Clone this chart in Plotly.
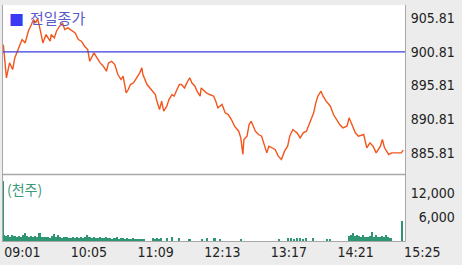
import pandas as pd
import plotly.graph_objects as go

DAY = "2024-01-02 "

# ---- price series (KOSPI-like intraday index) ----
price_times = ["09:01","09:04","09:07","09:10","09:12","09:15","09:19","09:22","09:25","09:28",
               "09:30","09:32","09:34","09:36","09:39","09:42","09:44","09:46","09:47","09:50",
               "09:52","09:55","09:58","10:00","10:03","10:07","10:10","10:13","10:16","10:19",
               "10:22","10:24","10:26","10:28","10:31","10:34","10:37","10:40","10:42","10:45",
               "10:48","10:51","10:54","10:56","10:59","11:01","11:03","11:06","11:09","11:12",
               "11:14","11:15","11:19","11:23","11:27","11:28","11:31","11:33","11:35","11:38",
               "11:40","11:43","11:45","11:47","11:50","11:52","11:55","11:58","12:00","12:02",
               "12:05","12:07","12:10","12:11","12:14","12:16","12:19","12:23","12:25","12:27",
               "12:31","12:34","12:37","12:40","12:43","12:47","12:49","12:51","12:52","12:55",
               "12:57","12:59","13:03","13:06","13:09","13:12","13:14","13:16","13:19","13:22",
               "13:25","13:28","13:31","13:34","13:36","13:39","13:41","13:43","13:46","13:49",
               "13:52","13:55","13:59","14:01","14:03","14:06","14:08","14:11","14:15","14:18",
               "14:21","14:24","14:27","14:31","14:33","14:35","14:39","14:42","14:47","14:50",
               "14:53","14:56","14:59","15:03","15:05","15:07","15:11","15:14","15:23","15:25"]
prices = [901.88,896.95,899.17,898.18,899.91,901.14,902.62,902.13,903.86,904.85,
          905.59,905.09,905.70,904.35,902.13,903.37,902.87,902.38,903.37,902.87,
          903.86,904.60,905.00,904.11,904.35,903.86,903.61,902.62,902.38,901.64,
          901.14,899.41,900.16,900.65,899.91,899.17,898.67,897.93,899.17,899.41,
          898.92,897.44,896.70,897.19,894.72,895.22,895.96,896.21,896.95,897.69,
          898.43,897.44,895.96,895.22,894.48,893.74,892.25,893.49,892.01,892.75,
          893.74,894.48,894.23,894.97,895.96,895.96,895.46,896.45,896.95,896.21,
          895.71,894.97,894.23,895.46,894.97,894.72,894.48,894.23,893.49,892.50,
          893.00,891.76,891.51,890.77,889.79,889.04,888.06,885.59,887.81,888.30,
          890.03,890.53,889.04,888.55,888.30,886.82,885.83,886.82,886.58,886.33,
          885.34,884.85,886.08,886.82,888.30,889.29,889.04,888.80,888.06,888.80,
          889.04,890.28,891.76,893.24,894.23,894.97,894.23,893.49,892.75,891.51,
          890.77,890.03,889.54,889.79,891.02,890.28,888.80,888.30,888.55,886.58,
          887.32,886.82,885.83,886.82,887.81,886.58,885.59,885.83,885.83,886.23]
prev_close = 900.81

# ---- volume (thousand shares) ----
vol_times = ["09:01","09:02","09:04","09:06","09:08","09:10","09:12","09:14","09:16","09:18",
             "09:20","09:22","09:24","09:26","09:28","09:30","09:32","09:34","09:36","09:38",
             "09:40","09:42","09:44","09:46","09:48","09:50","09:52","09:54","09:56","09:58",
             "10:00","10:02","10:04","10:06","10:08","10:10","10:12","10:14","10:16","10:18",
             "10:20","10:22","10:24","10:26","10:28","10:30","10:32","10:34","10:36","10:38",
             "10:40","10:42","10:44","10:46","10:48","10:50","10:52","10:54","10:56","10:58",
             "11:00","11:02","11:04","11:06","11:08","11:10","11:12","11:14","11:16",
             "11:25","11:27","11:29","11:31","11:33","11:38","11:43","11:50","12:00","12:12",
             "12:17","12:24","12:29","12:49","13:26","13:35","13:37","13:40","13:43","13:46",
             "13:49","13:52","13:59","14:12","14:15","14:33","14:35","14:37","14:39","14:41",
             "14:43","14:45","14:47","14:49","14:51","14:53","14:55","14:57","14:59","15:01",
             "15:03","15:05","15:07","15:09","15:11","15:13","15:24"]
volumes = [15000,1600,1300,1500,1100,1400,1200,1000,1300,1100,
           1600,2100,1200,1000,1300,1100,1200,900,1900,1000,
           1100,900,1000,800,1200,1700,1000,1600,900,800,
           1000,900,800,700,900,800,1000,800,900,700,
           1100,1500,900,800,1000,700,800,900,700,800,
           1000,700,800,600,700,900,600,700,800,600,
           700,500,600,700,500,600,500,400,500,
           700,600,700,600,800,800,900,800,600,600,
           700,700,600,600,600,700,800,600,700,800,
           600,700,800,600,500,1200,1500,2000,1300,1600,
           1200,1000,1400,1100,900,1200,2300,1000,1400,900,
           1100,1300,1000,1500,1000,800,5000]

price_ticks = [885.81, 890.81, 895.81, 900.81, 905.81]
vol_ticks = [6000, 12000]
time_ticks = ["09:01", "10:05", "11:09", "12:13", "13:17", "14:21", "15:25"]

to_dt = lambda ts: pd.to_datetime([DAY + t for t in ts])
px_t = to_dt(price_times)
vol_t = to_dt(vol_times)
tick_t = to_dt(time_ticks)

NUMFONT = "DejaVu Sans Condensed, DejaVu Sans Mono, monospace"
KFONT = "Noto Sans CJK KR"
GRAY = "#a8a8a8"

fig = go.Figure()
fig.add_trace(go.Scatter(x=px_t, y=prices, mode="lines", yaxis="y",
                         line=dict(color="#f2561c", width=1.4), hoverinfo="skip"))
fig.add_trace(go.Bar(x=vol_t, y=volumes, yaxis="y2", marker=dict(color="#2f9673", line=dict(width=0)),
                     width=90000, hoverinfo="skip"))

x0 = pd.Timestamp(DAY + "09:01") - pd.Timedelta(seconds=18)
x1 = pd.Timestamp(DAY + "15:25") + pd.Timedelta(seconds=100)

fig.update_layout(
    width=462, height=265,
    margin=dict(l=3, r=57, t=5, b=24),
    paper_bgcolor="#ececec", plot_bgcolor="white",
    showlegend=False, bargap=0,
    xaxis=dict(range=[x0, x1], anchor="y2", tickvals=tick_t, ticktext=time_ticks,
               showgrid=False, zeroline=False, showline=True, linecolor=GRAY, linewidth=1,
               mirror=True, ticks="", ticklabelshift=19, ticklabelstandoff=-2,
               tickfont=dict(family=NUMFONT, size=14, color="#222222")),
    yaxis=dict(domain=[0.284, 1.0], range=[882.7, 907.75], side="right",
               tickvals=price_ticks, ticktext=[f"{v:.2f}" for v in price_ticks],
               showgrid=False, zeroline=False, showline=True, linecolor=GRAY, linewidth=1,
               mirror=True, ticks="", ticklabelstandoff=2,
               tickfont=dict(family=NUMFONT, size=14, color="#222222")),
    yaxis2=dict(domain=[0.0, 0.28], range=[0, 16500], side="right",
                tickvals=vol_ticks,
                ticktext=[f"{v:,}".rjust(6, "\u2007") for v in vol_ticks],
                showgrid=False, zeroline=False, showline=True, linecolor=GRAY, linewidth=1,
                mirror=True, ticks="", ticklabelstandoff=2,
                tickfont=dict(family=NUMFONT, size=14, color="#222222")),
)

# previous close reference line
fig.add_shape(type="line", xref="paper", yref="y", x0=0, x1=1, y0=prev_close, y1=prev_close,
              line=dict(color="#3c3ce0", width=1.3))
# panel separator
fig.add_shape(type="line", xref="paper", yref="paper", x0=0, x1=1, y0=0.282, y1=0.282,
              line=dict(color=GRAY, width=1.5))

fig.add_annotation(xref="paper", yref="paper", x=0.009, y=0.99, xanchor="left", yanchor="top",
                   text="■", showarrow=False, font=dict(family=KFONT, size=15, color="#3a3af5"))
fig.add_annotation(xref="paper", yref="paper", x=0.063, y=1.0, xanchor="left", yanchor="top",
                   text="전일종가", showarrow=False, font=dict(family=KFONT, size=15, color="#5a5ac8"))
fig.add_annotation(xref="paper", yref="paper", x=0.006, y=0.272, xanchor="left", yanchor="top",
                   text="(천주)", showarrow=False, font=dict(family=KFONT, size=14, color="#3a9a7a"))

fig.write_html("out.html")
